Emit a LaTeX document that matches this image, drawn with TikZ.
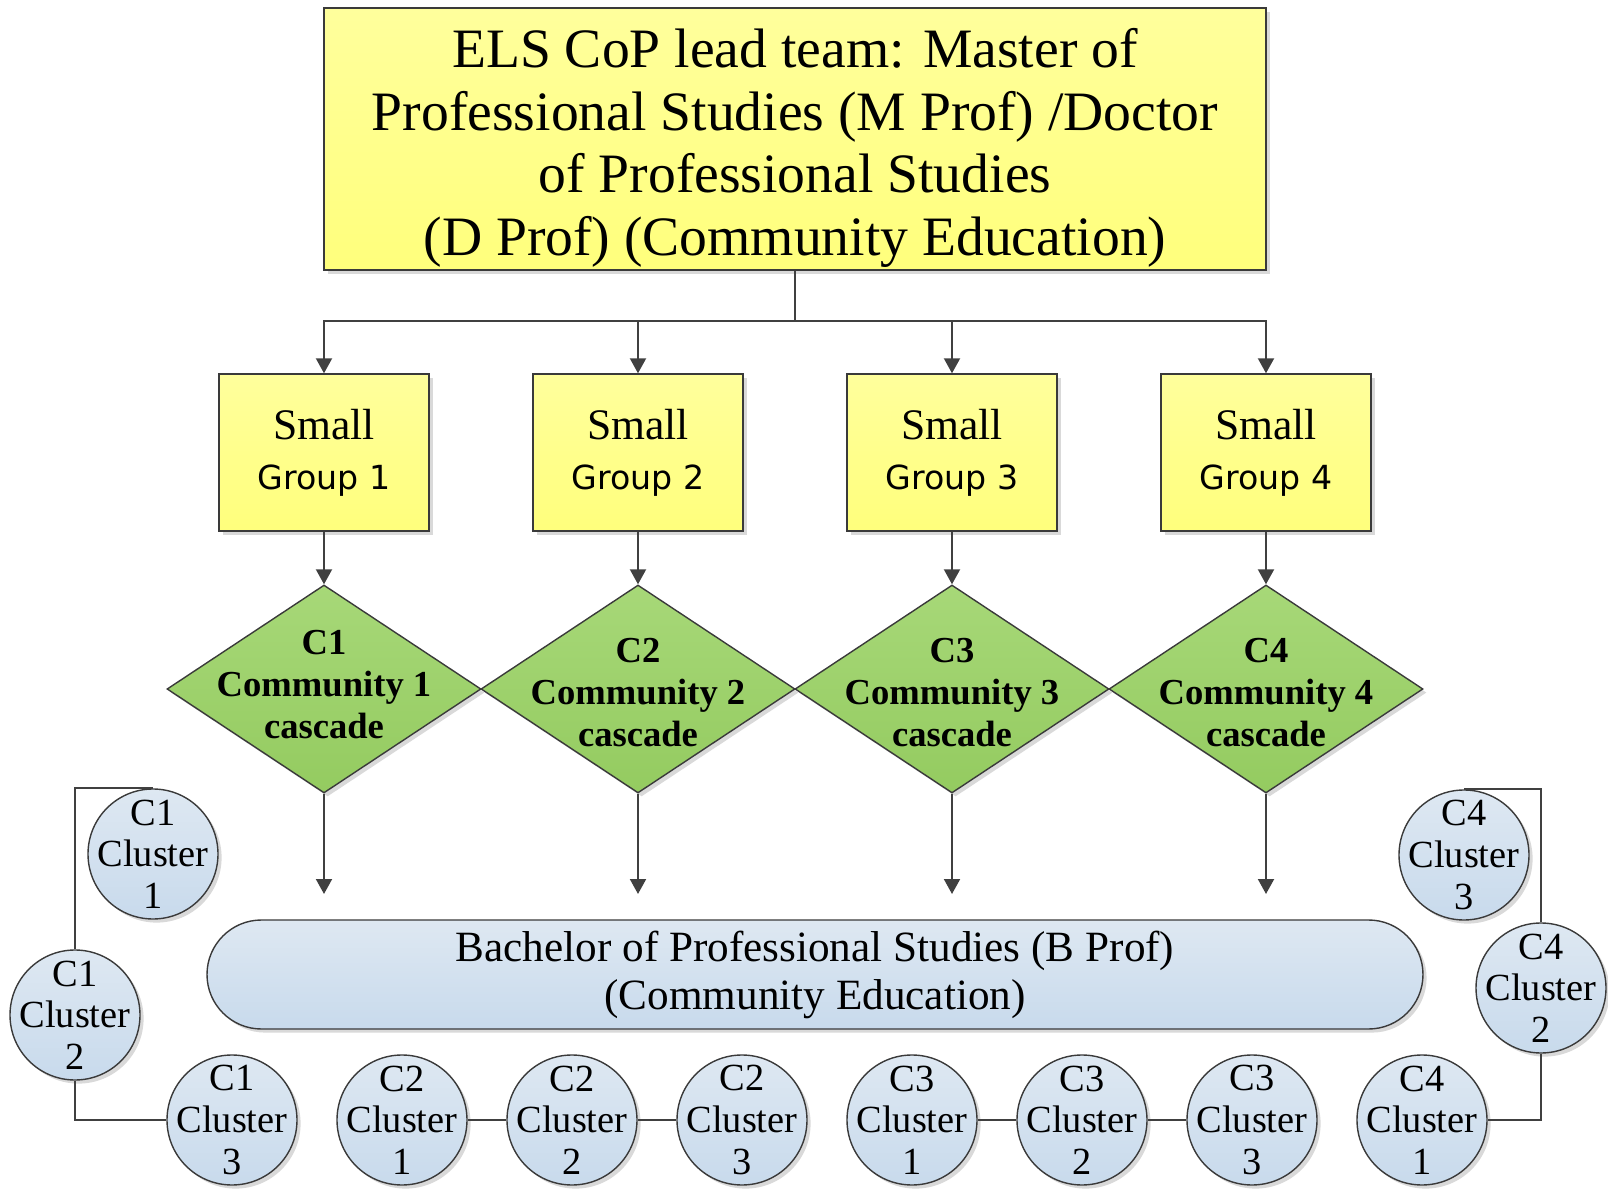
\documentclass[tikz,border=0pt]{standalone}
\usepackage{fontspec}
\setmainfont{Liberation Serif}
\newfontfamily\sansg{DejaVu Sans}
\usetikzlibrary{arrows.meta,shapes.geometric,shapes.misc,shadows}
\definecolor{lc}{HTML}{404040}
\definecolor{bc}{HTML}{3A3A3A}
\definecolor{ytop}{HTML}{FFFF9C}
\definecolor{ybot}{HTML}{FFFF7C}
\definecolor{gtop}{HTML}{A7D878}
\definecolor{gbot}{HTML}{94CB60}
\definecolor{btop}{HTML}{DEE8F2}
\definecolor{bbot}{HTML}{C8DAEC}
\tikzset{
  conn/.style={draw=lc, line width=1pt},
  arr/.style={conn, -{Triangle[width=8pt,length=7.5pt]}},
  shad/.style={drop shadow={shadow xshift=1.8pt, shadow yshift=-1.8pt, opacity=0.25, fill=black!60}},
  topbox/.style={draw=bc, line width=0.7pt, top color=ytop, bottom color=ybot, shad,
    minimum width=471pt, minimum height=131pt, inner sep=0pt},
  toptext/.style={align=center, font={\fontsize{27.8pt}{31.3pt}\selectfont}},
  grpbox/.style={draw=bc, line width=0.7pt, top color=ytop, bottom color=ybot, shad,
    minimum width=105pt, minimum height=78.5pt, inner sep=0pt, align=center,
    font={\fontsize{21.8pt}{25pt}\selectfont}},
  dia/.style={diamond, draw=bc, line width=0.7pt, top color=gtop, bottom color=gbot, shad,
    minimum width=157pt, minimum height=104pt, inner sep=0pt},
  dtext/.style={align=center, font={\bfseries\fontsize{18.3pt}{21pt}\selectfont}},
  bach/.style={rounded rectangle, draw=bc, line width=0.7pt, top color=btop, bottom color=bbot, shad,
    minimum width=608pt, minimum height=54.5pt, inner sep=0pt, align=center,
    font={\fontsize{21.6pt}{24pt}\selectfont}},
  clu/.style={circle, draw=bc, line width=0.7pt, top color=btop, bottom color=bbot, shad,
    minimum size=65pt, inner sep=0pt},
  ctext/.style={align=center, font={\fontsize{19.2pt}{20.8pt}\selectfont}},
}
\begin{document}
\begin{tikzpicture}[x=0.5pt,y=-0.5pt]
\useasboundingbox (0,0) rectangle (1608,1192);
% top box
\node[topbox, label={[toptext, yshift=-4.5pt]center:ELS CoP lead team: Master of\\Professional Studies (M Prof) /Doctor\\of Professional Studies\\(D Prof) (Community Education)}] (top) at (795,139) {};
% small groups
\node[grpbox] (g1) at (324,452.5) {Small\\{\sansg\fontsize{16.6pt}{25pt}\selectfont Group 1}};
\node[grpbox] (g2) at (638,452.5) {Small\\{\sansg\fontsize{16.6pt}{25pt}\selectfont Group 2}};
\node[grpbox] (g3) at (952,452.5) {Small\\{\sansg\fontsize{16.6pt}{25pt}\selectfont Group 3}};
\node[grpbox] (g4) at (1266,452.5) {Small\\{\sansg\fontsize{16.6pt}{25pt}\selectfont Group 4}};
% diamonds
\node[dia] (d1) at (324,689) {};
\node[dia] (d2) at (638,689) {};
\node[dia] (d3) at (952,689) {};
\node[dia] (d4) at (1266,689) {};
\node[dtext] (d1t) at (324,685) {C1\\Community 1\\cascade};
\node[dtext] (d2t) at (638,693) {C2\\Community 2\\cascade};
\node[dtext] (d3t) at (952,693) {C3\\Community 3\\cascade};
\node[dtext] (d4t) at (1266,693) {C4\\Community 4\\cascade};
% bachelor
\node[bach] (bp) at (815,974.5) {Bachelor of Professional Studies (B Prof)\\(Community Education)};
% arrow ends
\coordinate (e1) at (324,894);
\coordinate (e2) at (638,894);
\coordinate (e3) at (952,894);
\coordinate (e4) at (1266,894);
\coordinate (bus) at (795,321);
% connectors top
\draw[conn] (top.south) -- (bus);
\draw[arr] (bus) -| (g1.north);
\draw[arr] (bus) -| (g2.north);
\draw[arr] (bus) -| (g3.north);
\draw[arr] (bus) -| (g4.north);
\draw[arr] (g1.south) -- (d1.north);
\draw[arr] (g2.south) -- (d2.north);
\draw[arr] (g3.south) -- (d3.north);
\draw[arr] (g4.south) -- (d4.north);
\draw[arr] (d1.south) -- (e1);
\draw[arr] (d2.south) -- (e2);
\draw[arr] (d3.south) -- (e3);
\draw[arr] (d4.south) -- (e4);
% clusters
\node[clu, label={[ctext]center:C1\\Cluster\\1}] (c11) at (153,854) {};
\node[clu, label={[ctext]center:C1\\Cluster\\2}] (c12) at (75,1015) {};
\node[clu, label={[ctext]center:C1\\Cluster\\3}] (c13) at (232,1120) {};
\node[clu, label={[ctext]center:C2\\Cluster\\1}] (c21) at (402,1120) {};
\node[clu, label={[ctext]center:C2\\Cluster\\2}] (c22) at (572,1120) {};
\node[clu, label={[ctext]center:C2\\Cluster\\3}] (c23) at (742,1120) {};
\node[clu, label={[ctext]center:C3\\Cluster\\1}] (c31) at (912,1120) {};
\node[clu, label={[ctext]center:C3\\Cluster\\2}] (c32) at (1082,1120) {};
\node[clu, label={[ctext]center:C3\\Cluster\\3}] (c33) at (1252,1120) {};
\node[clu, label={[ctext]center:C4\\Cluster\\1}] (c41) at (1422,1120) {};
\node[clu, label={[ctext]center:C4\\Cluster\\2}] (c42) at (1541,988) {};
\node[clu, label={[ctext]center:C4\\Cluster\\3}] (c43) at (1464,855) {};
% cluster connectors
\draw[conn] (c12.north) |- (c11.north);
\draw[conn] (c12.south) |- (c13.west);
\draw[conn] (c21.east) -- (c22.west);
\draw[conn] (c22.east) -- (c23.west);
\draw[conn] (c31.east) -- (c32.west);
\draw[conn] (c32.east) -- (c33.west);
\draw[conn] (c42.north) |- (c43.north);
\draw[conn] (c42.south) |- (c41.east);
\end{tikzpicture}
\end{document}
